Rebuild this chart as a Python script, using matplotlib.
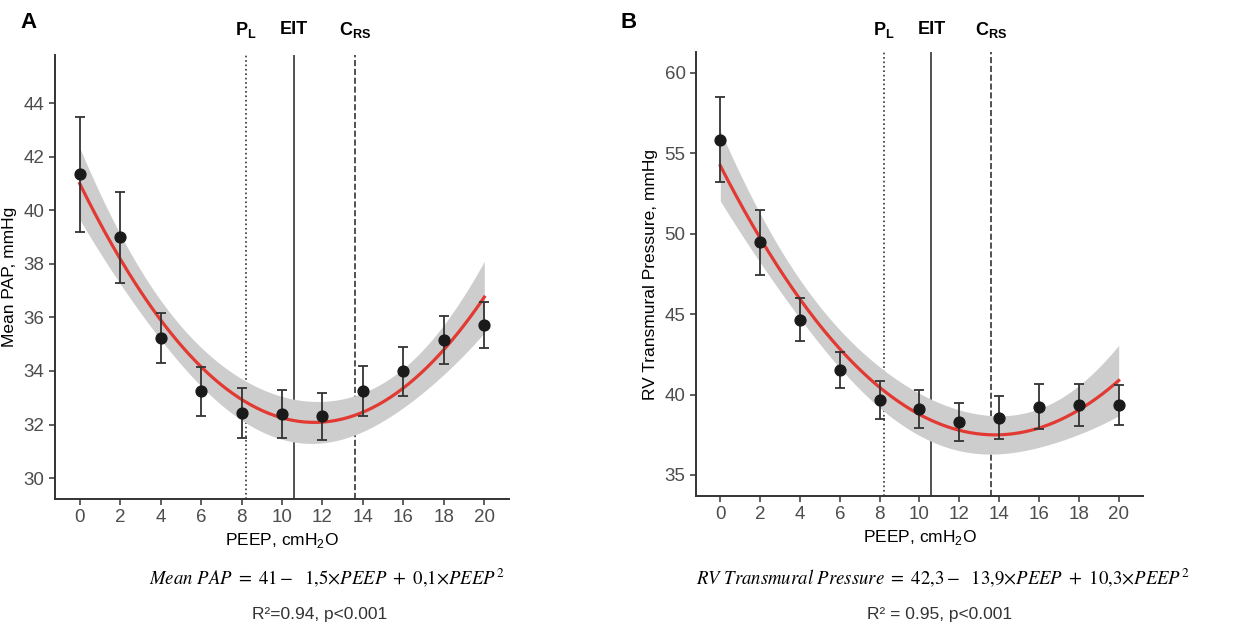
import numpy as np
import matplotlib
matplotlib.use('Agg')
import matplotlib.pyplot as plt
from matplotlib import transforms

plt.rcParams['font.family'] = ['Liberation Sans', 'DejaVu Sans']

# PEEP steps (cmH2O)
peep = [0, 2, 4, 6, 8, 10, 12, 14, 16, 18, 20]

# Panel A: mean PAP (mmHg), mean and error bar half-length
pap_mean = [41.35, 39.0, 35.23, 33.24, 32.44, 32.4, 32.31, 33.25, 33.99, 35.16, 35.73]
pap_err = [2.15, 1.7, 0.94, 0.91, 0.94, 0.89, 0.88, 0.92, 0.92, 0.9, 0.86]
pap_fit = [41.0, -1.538, 0.0663]      # c0, c1, c2 of the red curve
pap_band_mid = 0.80                   # half-width of grey band at PEEP 10

# Panel B: RV transmural pressure (mmHg)
rv_mean = [55.85, 49.46, 44.65, 41.52, 39.67, 39.11, 38.32, 38.57, 39.25, 39.34, 39.34]
rv_err = [2.65, 2.04, 1.35, 1.1, 1.18, 1.2, 1.18, 1.34, 1.39, 1.31, 1.23]
rv_fit = [54.23, -2.426, 0.0879]
rv_band_mid = 1.31

# optimal PEEP by each method
vlines = [8.2, 10.6, 13.6]
vline_styles = [':', '-', '--']
vline_labels = [r'$\mathbf{P_L}$', 'EIT', r'$\mathbf{C_{RS}}$']

dark = '#333333'


def quad_band(xs, coef, band_mid):
    # curve + confidence band shaped by the leverage of a quadratic fit on the PEEP design
    X = np.vander(np.array(peep, float), 3, increasing=True)
    inv = np.linalg.inv(X.T @ X)
    G = np.vander(xs, 3, increasing=True)
    lev = np.sqrt(np.einsum('ij,jk,ik->i', G, inv, G))
    lev_mid = np.sqrt(np.array([1, 10, 100]) @ inv @ np.array([1, 10, 100]))
    y = G @ np.array(coef)
    half = band_mid * lev / lev_mid
    return y, y - half, y + half


def draw_panel(ax, mean, err, coef, band_mid, ylim, yticks, ylabel):
    xs = np.linspace(0, 20, 200)
    y, lo, hi = quad_band(xs, coef, band_mid)
    ax.fill_between(xs, lo, hi, color='#cdcdcd', lw=0, zorder=1)
    ax.plot(xs, y, color='#e23a33', lw=2.3, zorder=2)
    ax.errorbar(peep, mean, yerr=err, fmt='none', ecolor=dark, elinewidth=1.3,
                capsize=3.4, capthick=1.3, zorder=3)
    ax.plot(peep, mean, 'o', color='#1a1a1a', ms=7.8, zorder=4)
    for xv, ls in zip(vlines, vline_styles):
        ax.axvline(xv, color=dark, ls=ls, lw=1.2, zorder=0)
    ax.set_xlim(-1.22, 21.22)
    ax.set_ylim(*ylim)
    ax.set_xticks(range(0, 21, 2))
    ax.set_yticks(yticks)
    for s in ['top', 'right']:
        ax.spines[s].set_visible(False)
    for s in ['left', 'bottom']:
        ax.spines[s].set_color(dark)
        ax.spines[s].set_linewidth(1.4)
    ax.tick_params(colors=dark, labelcolor='#4d4d4d', labelsize=13.5, length=4, width=1.1)
    ax.set_xlabel(r'PEEP, cmH$_2$O', fontsize=12.5, labelpad=3)
    ax.set_ylabel(ylabel, fontsize=12.5, labelpad=5)
    tr = transforms.blended_transform_factory(ax.transData, fig.transFigure)
    for xv, lab in zip(vlines, vline_labels):
        ax.text(xv, 1 - 30 / 628, lab, transform=tr, ha='center', va='center',
                fontsize=13, fontweight='bold')


plt.rcParams['mathtext.fontset'] = 'custom'
plt.rcParams['mathtext.rm'] = 'Liberation Sans'
plt.rcParams['mathtext.bf'] = 'Liberation Sans:bold'

fig = plt.figure(figsize=(12.5, 6.28), dpi=100)
axA = fig.add_axes([55 / 1250, 129 / 628, 454 / 1250, 444 / 628])
axB = fig.add_axes([696 / 1250, 132 / 628, 447 / 1250, 444 / 628])

draw_panel(axA, pap_mean, pap_err, pap_fit, pap_band_mid, (29.22, 45.8),
           range(30, 45, 2), 'Mean PAP, mmHg')
draw_panel(axB, rv_mean, rv_err, rv_fit, rv_band_mid, (33.69, 61.3),
           range(35, 61, 5), 'RV Transmural Pressure, mmHg')

fig.text(29 / 1250, 1 - 22 / 628, 'A', fontsize=16, fontweight='bold', ha='center', va='center')
fig.text(629 / 1250, 1 - 22 / 628, 'B', fontsize=16, fontweight='bold', ha='center', va='center')

# equations in a serif math face
plt.rcParams['mathtext.fontset'] = 'stix'
fig.text(327 / 1250, 1 - 578 / 628,
         r'$Mean\ PAP\ =\ 41 -\ \ 1{,}5{\times}PEEP\ +\ 0{,}1{\times}PEEP^2$',
         fontsize=13.5, ha='center', va='center')
fig.text(943 / 1250, 1 - 578 / 628,
         r'$RV\ Transmural\ Pressure\ =\ 42{,}3 -\ \ 13{,}9{\times}PEEP\ +\ 10{,}3{\times}PEEP^2$',
         fontsize=13.5, ha='center', va='center')
fig.text(320 / 1250, 1 - 615 / 628, 'R²=0.94, p<0.001', fontsize=12.5,
         color='#333333', ha='center', va='center')
fig.text(940 / 1250, 1 - 615 / 628, 'R² = 0.95, p<0.001', fontsize=12.5,
         color='#333333', ha='center', va='center')

fig.savefig('out.png', dpi=100)
